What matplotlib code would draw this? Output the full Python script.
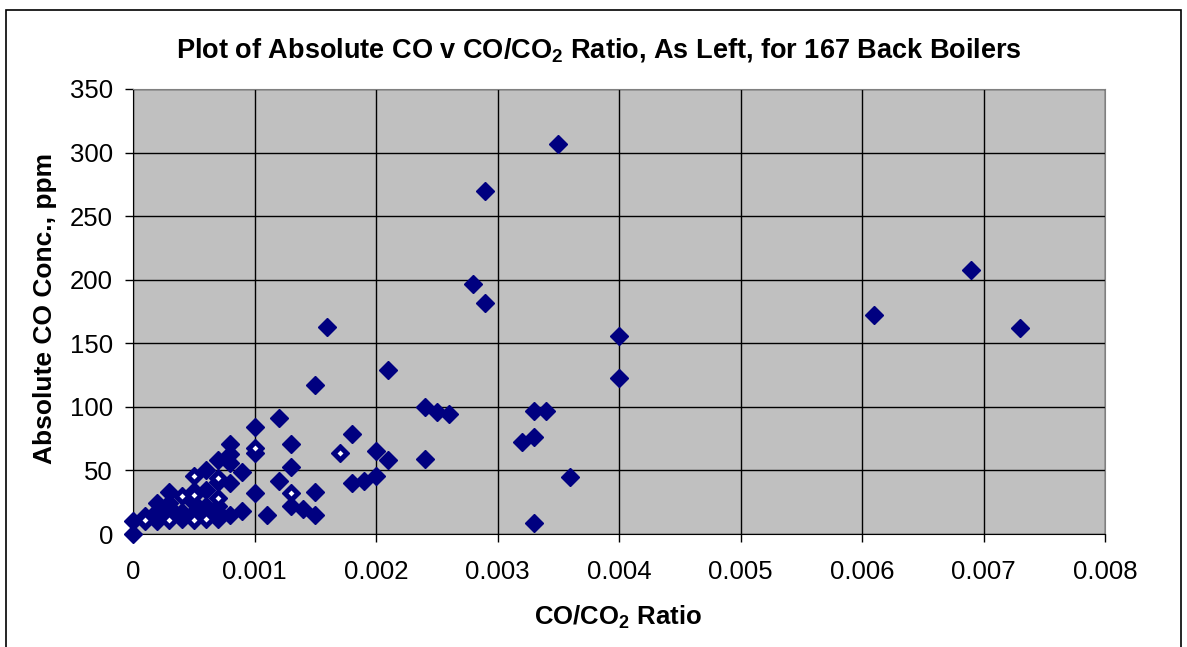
import matplotlib
matplotlib.use("Agg")
import matplotlib.pyplot as plt
from matplotlib.patches import Rectangle

plt.rcParams['font.family'] = ['Liberation Sans', 'DejaVu Sans']
plt.rcParams['mathtext.fontset'] = 'custom'
plt.rcParams['mathtext.rm'] = 'Liberation Sans:bold'
plt.rcParams['mathtext.bf'] = 'Liberation Sans:bold'
plt.rcParams['mathtext.it'] = 'Liberation Sans:bold'
plt.rcParams['mathtext.default'] = 'rm'

# CO/CO2 ratio (x) and absolute CO ppm (y), single points
ratio = [0, 0, 0.0001, 0.0001, 0.0002, 0.0002, 0.0002, 0.0003, 0.0003, 0.0003, 0.0003,
         0.0004, 0.0004, 0.0004, 0.0005, 0.0005, 0.0005, 0.0006, 0.0006, 0.0006,
         0.0007, 0.0007, 0.0007, 0.0007, 0.0007, 0.0008, 0.0008, 0.0008, 0.0008, 0.0008,
         0.0009, 0.0009, 0.001, 0.001, 0.001, 0.0011, 0.0012, 0.0012, 0.0013, 0.0013,
         0.0013, 0.0014, 0.0015, 0.0015, 0.0015, 0.0016, 0.0018, 0.0018, 0.0019,
         0.002, 0.002, 0.0021, 0.0021, 0.0024, 0.0024, 0.0025, 0.0026, 0.0028, 0.0029,
         0.0029, 0.0032, 0.0033, 0.0033, 0.0033, 0.0034, 0.0035, 0.0036, 0.004, 0.004,
         0.0061, 0.0069, 0.0073]
co_ppm = [10, 0, 14, 10, 24, 18, 10, 33, 24, 21, 16,
          17, 14, 12, 34, 24, 17, 50, 35, 22,
          58, 41, 22, 17, 12, 71, 63, 56, 40, 15,
          49, 18, 84, 64, 32, 15, 91, 42, 71, 53,
          22, 20, 117, 33, 15, 163, 79, 40, 42,
          65, 46, 129, 58, 100, 59, 96, 94, 197, 270,
          182, 72, 97, 76, 9, 97, 307, 45, 156, 123,
          172, 208, 162]
# coincident (overlapping) readings, shown with a light centre
ratio_overlap = [0.0003, 0.0004, 0.0005, 0.0005, 0.0005, 0.0006, 0.0007, 0.0007,
                 0.001, 0.0013, 0.0017, 0.0001]
co_overlap = [11, 30, 46, 31, 11, 12, 44, 28, 68, 32, 64, 11]

x_ticks = [0, 0.001, 0.002, 0.003, 0.004, 0.005, 0.006, 0.007, 0.008]
x_tick_labels = ['0', '0.001', '0.002', '0.003', '0.004', '0.005', '0.006', '0.007', '0.008']
y_ticks = [0, 50, 100, 150, 200, 250, 300, 350]

W, H = 1187, 647
fig = plt.figure(figsize=(W / 100, H / 100), dpi=100)
fig.patch.set_facecolor('white')
fig.add_artist(Rectangle((6 / W, -0.01), (1181 - 6) / W, (H - 10) / H + 0.01,
                         transform=fig.transFigure, fill=False, edgecolor='black',
                         linewidth=1.2))

ax = fig.add_axes([133 / W, (H - 534) / H, 972 / W, 445 / H])
ax.set_facecolor('#C0C0C0')
ax.set_xlim(0, 0.008)
ax.set_ylim(0, 350)
ax.set_xticks(x_ticks)
ax.set_xticklabels(x_tick_labels)
ax.set_yticks(y_ticks)
ax.grid(True, color='black', linewidth=1.0)
ax.set_axisbelow(True)
for s in ['top', 'right']:
    ax.spines[s].set_color('#808080')
for s in ['left', 'bottom']:
    ax.spines[s].set_color('black')
ax.tick_params(axis='both', labelsize=18.5, length=5.8, width=1, direction='out', colors='black')
ax.tick_params(axis='x', pad=13)
ax.tick_params(axis='y', pad=8.5)

ax.plot(ratio, co_ppm, linestyle='none', marker='D', markersize=9,
        color='#000080', clip_on=False, zorder=3)
ax.plot(ratio_overlap, co_overlap, linestyle='none', marker='D', markersize=9,
        color='#000080', clip_on=False, zorder=3)
ax.plot(ratio_overlap, co_overlap, linestyle='none', marker='D', markersize=3,
        color='white', markeredgewidth=0, clip_on=False, zorder=4)

fig.text(599 / W, 1 - 50 / H, 'Plot of Absolute CO v CO/CO$_2$ Ratio, As Left, for 167 Back Boilers',
         ha='center', va='center', fontsize=19.5, fontweight='bold')
fig.text(618 / W, 1 - 617 / H, 'CO/CO$_2$ Ratio', ha='center', va='center',
         fontsize=18.5, fontweight='bold')
fig.text(45 / W, 1 - 308 / H, 'Absolute CO Conc., ppm', ha='center', va='center',
         rotation=90, fontsize=19, fontweight='bold')

fig.savefig('out.png', dpi=100)
